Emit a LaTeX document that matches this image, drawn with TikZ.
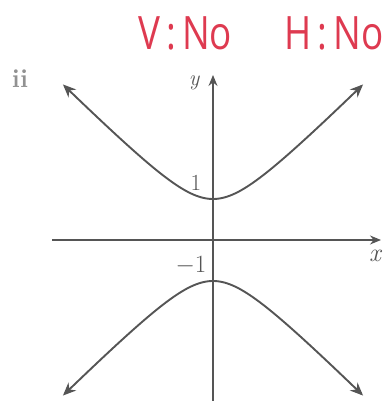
\documentclass[tikz,border=0pt]{standalone}
\usepackage{fontspec}
\setsansfont{Open Sans}
\usetikzlibrary{arrows.meta}
\definecolor{inkred}{RGB}{222,58,80}
\definecolor{graphgray}{RGB}{85,85,85}
\tikzset{
  axis/.style={draw=graphgray, line width=1.3pt, -{Stealth[length=11pt,width=9pt]}},
  curve/.style={draw=graphgray, line width=1.9pt, {Stealth[length=13pt,width=11pt]}-{Stealth[length=13pt,width=11pt]}},
  lbl/.style={text=graphgray, font=\fontsize{23}{23}\selectfont, inner sep=1pt},
  note/.style={text=inkred, font=\sffamily\fontsize{46}{46}\selectfont, inner sep=0pt}
}
\begin{document}
\begin{tikzpicture}[x=1pt,y=1pt]
\useasboundingbox (0,0) rectangle (389,401);
% handwritten notes
\node[note, anchor=base west] (vno) at (138,351) {\scalebox{0.8}[1]{V\,:\,No}};
\node[note, anchor=base west] (hno) at (284,351) {\scalebox{0.8}[1]{H\,:\,No}};
\node[text=graphgray!65, font=\bfseries\fontsize{26}{26}\selectfont] (ii) at (20,322) {ii};
% axes
\coordinate (xl) at (52,161);
\coordinate (xr) at (381,161);
\coordinate (yb) at (213,0);
\coordinate (yt) at (213,326);
\draw[axis] (xl) -- (xr);
\draw[axis] (yb) -- (yt);
% hyperbola branches
\begin{scope}[shift={(213,161)}, x=41pt, y=41pt]
  \draw[curve] plot[domain=-3.66:3.66, samples=120, smooth] ({\x},{sqrt(1+\x*\x)});
  \draw[curve] plot[domain=-3.66:3.66, samples=120, smooth] ({\x},{-sqrt(1+\x*\x)});
\end{scope}
% labels
\node[lbl, font=\itshape\fontsize{22}{22}\selectfont] (ylab) at (194,318) {y};
\node[lbl, font=\itshape\fontsize{26}{26}\selectfont] (xlab) at (375,145) {x};
\node[lbl] (one) at (196,218) {1};
\node[lbl] (mone) at (191,135) {$-1$};
\end{tikzpicture}
\end{document}
